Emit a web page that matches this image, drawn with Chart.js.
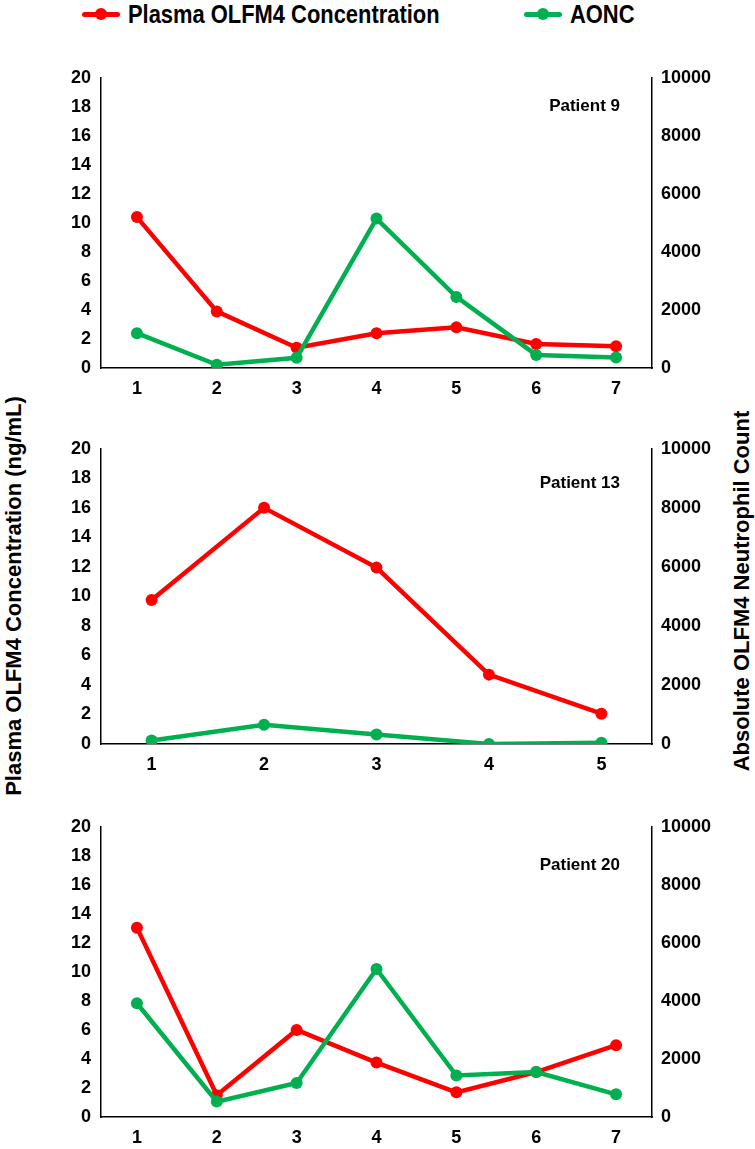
<!DOCTYPE html>
<html lang="en">

<head>
    <meta charset="UTF-8">
    <title>Plasma OLFM4 and AONC</title>
    <style>
        body {
            margin: 0;
            width: 755px;
            height: 1149px;
            background: #fff;
            position: relative;
            overflow: hidden;
            font-family: "Liberation Sans", Arial, sans-serif;
            font-weight: bold;
            color: #000;
        }

        .panel {
            position: absolute;
            left: 0;
            width: 755px;
        }

        .legend {
            position: absolute;
            top: 0;
            height: 28px;
            display: flex;
            align-items: center;
            font-size: 25px;
            white-space: nowrap;
        }

        .legend .txt {
            display: inline-block;
            transform: scaleX(0.876);
            transform-origin: left center;
        }

        .key {
            position: relative;
            width: 38px;
            height: 5px;
            border-radius: 3px;
            margin-right: 8px;
        }

        .key::after {
            content: "";
            position: absolute;
            left: 13px;
            top: -4px;
            width: 12px;
            height: 12px;
            border-radius: 50%;
            background: inherit;
        }

        .ytitle {
            position: absolute;
            font-size: 22px;
            white-space: nowrap;
            transform-origin: center center;
        }

        .patient {
            position: absolute;
            font-size: 17px;
            white-space: nowrap;
        }
    </style>
    <script src="https://cdn.jsdelivr.net/npm/chart.js"></script>
</head>

<body>
    <div class="legend" style="left:82px"><span class="key" style="background:#ff0000"></span><span class="txt">Plasma OLFM4 Concentration</span></div>
    <div class="legend" style="left:524px"><span class="key" style="background:#00b050"></span><span class="txt">AONC</span></div>

    <div class="ytitle" id="leftTitle">Plasma OLFM4 Concentration (ng/mL)</div>
    <div class="ytitle" id="rightTitle">Absolute OLFM4 Neutrophil Count</div>

    <div class="panel" style="top:63px;height:337px"><canvas id="c9"></canvas></div>
    <div class="panel" style="top:434px;height:342px"><canvas id="c13"></canvas></div>
    <div class="panel" style="top:812px;height:337px"><canvas id="c20"></canvas></div>

    <div class="patient" style="right:135px;top:96px">Patient 9</div>
    <div class="patient" style="right:135px;top:473px">Patient 13</div>
    <div class="patient" style="right:135px;top:855px">Patient 20</div>

    <script>
        // visit numbers and values
        var visits9 = [1, 2, 3, 4, 5, 6, 7];
        var olfm9 = [10.4, 3.9, 1.4, 2.4, 2.8, 1.65, 1.5];
        var aonc9 = [1200, 110, 350, 5150, 2450, 450, 360];

        var visits13 = [1, 2, 3, 4, 5];
        var olfm13 = [9.75, 16.0, 11.95, 4.7, 2.05];
        var aonc13 = [120, 650, 320, 0, 40];

        var visits20 = [1, 2, 3, 4, 5, 6, 7];
        var olfm20 = [13.05, 1.5, 6.0, 3.75, 1.7, 3.1, 4.95];
        var aonc20 = [3920, 530, 1170, 5100, 1430, 1550, 780];

        var leftTicks = [0, 2, 4, 6, 8, 10, 12, 14, 16, 18, 20];
        var rightTicks = [0, 2000, 4000, 6000, 8000, 10000];

        var RED = '#ff0000';
        var GREEN = '#00b050';
        var tickFont = { family: "'Liberation Sans', Arial, sans-serif", size: 18, weight: 'bold' };

        function pairs(xs, ys) {
            return xs.map(function (x, i) { return { x: x, y: ys[i] }; });
        }

        function plain(v) {
            return String(v);
        }

        function makePanel(id, visits, olfm, aonc, xMin, xMax) {
            var ctx = document.getElementById(id).getContext('2d');
            return new Chart(ctx, {
                type: 'line',
                data: {
                    datasets: [{
                        label: 'Plasma OLFM4 Concentration',
                        data: pairs(visits, olfm),
                        yAxisID: 'y',
                        borderColor: RED,
                        backgroundColor: RED,
                        borderWidth: 4.5,
                        pointRadius: 6,
                        pointBorderWidth: 0,
                        tension: 0,
                        order: 2
                    },
                    {
                        label: 'AONC',
                        data: pairs(visits, aonc),
                        yAxisID: 'y1',
                        borderColor: GREEN,
                        backgroundColor: GREEN,
                        borderWidth: 4.5,
                        pointRadius: 6,
                        pointBorderWidth: 0,
                        tension: 0,
                        order: 1
                    }
                    ]
                },
                options: {
                    responsive: true,
                    maintainAspectRatio: false,
                    animation: false,
                    layout: { padding: { top: 10, left: 40, right: 30, bottom: 0 } },
                    plugins: {
                        legend: { display: false },
                        tooltip: { enabled: false }
                    },
                    scales: {
                        x: {
                            type: 'linear',
                            min: xMin,
                            max: xMax,
                            afterBuildTicks: function (axis) {
                                axis.ticks = visits.map(function (v) { return { value: v }; });
                            },
                            grid: { display: false, drawTicks: false },
                            border: { color: '#000', width: 1.5 },
                            ticks: { color: '#000', font: tickFont, padding: 10, callback: plain },
                            afterFit: function (axis) { axis.height = 32; }
                        },
                        y: {
                            position: 'left',
                            min: 0,
                            max: 20,
                            afterBuildTicks: function (axis) {
                                axis.ticks = leftTicks.map(function (v) { return { value: v }; });
                            },
                            grid: { display: false, drawOnChartArea: false, drawTicks: true, tickLength: 6, tickColor: '#000', tickWidth: 1.5 },
                            border: { color: '#000', width: 1.5 },
                            ticks: { color: '#000', font: tickFont, padding: 4, callback: plain },
                            afterFit: function (axis) { axis.width = 61; }
                        },
                        y1: {
                            position: 'right',
                            min: 0,
                            max: 10000,
                            afterBuildTicks: function (axis) {
                                axis.ticks = rightTicks.map(function (v) { return { value: v }; });
                            },
                            grid: { display: false, drawOnChartArea: false, drawTicks: true, tickLength: 6, tickColor: '#000', tickWidth: 1.5 },
                            border: { color: '#000', width: 1.5 },
                            ticks: { color: '#000', font: tickFont, padding: 3, callback: plain },
                            afterFit: function (axis) { axis.width = 73; }
                        }
                    }
                }
            });
        }

        makePanel('c9', visits9, olfm9, aonc9, 0.55, 7.45);
        makePanel('c13', visits13, olfm13, aonc13, 0.55, 5.45);
        makePanel('c20', visits20, olfm20, aonc20, 0.55, 7.45);

        // rotated figure-wide axis titles
        function placeTitle(id, cx, cy, deg) {
            var el = document.getElementById(id);
            var w = el.offsetWidth, h = el.offsetHeight;
            el.style.left = (cx - w / 2) + 'px';
            el.style.top = (cy - h / 2) + 'px';
            el.style.transform = 'rotate(' + deg + 'deg)';
        }
        placeTitle('leftTitle', 14, 596, -90);
        placeTitle('rightTitle', 742, 591, -90);
    </script>
</body>

</html>
